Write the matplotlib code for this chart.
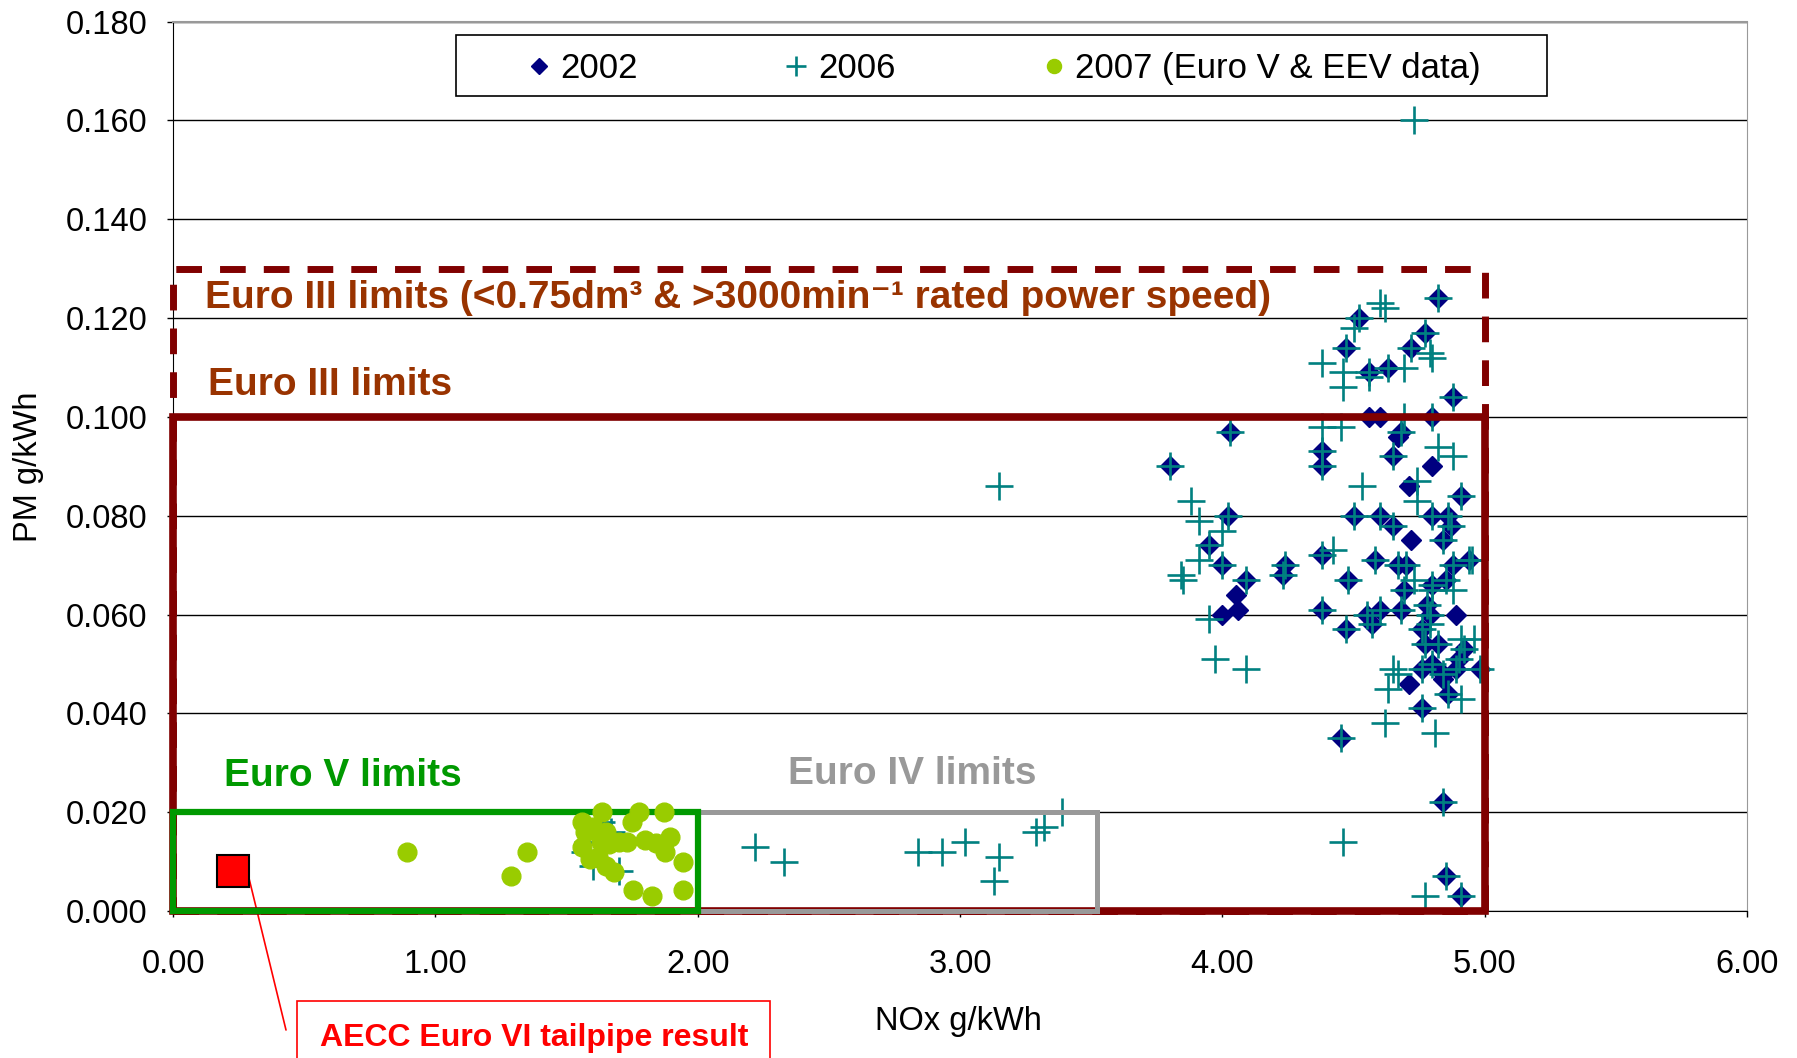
import matplotlib
matplotlib.use("Agg")
import matplotlib.pyplot as plt
from matplotlib.patches import Rectangle

plt.rcParams['font.family'] = ['Liberation Sans', 'DejaVu Sans']

# 2002 engines (NOx, PM)
nox_2002 = [3.80, 4.03, 3.95, 4.00, 4.02, 4.00, 4.05, 4.06, 4.09, 4.24, 4.23, 4.38, 4.38, 4.38,
            4.38, 4.82, 4.52, 4.47, 4.77, 4.72, 4.56, 4.63, 4.88, 4.56, 4.60, 4.80, 4.68, 4.67,
            4.65, 4.80, 4.50, 4.60, 4.65, 4.71, 4.91, 4.80, 4.86, 4.87, 4.72, 4.84, 4.58, 4.67,
            4.70, 4.48, 4.88, 4.94, 4.80, 4.85, 4.69, 4.55, 4.60, 4.68, 4.78, 4.79, 4.89, 4.47,
            4.57, 4.76, 4.77, 4.82, 4.92, 4.90, 4.80, 4.76, 4.84, 4.89, 4.98, 4.71, 4.84, 4.86,
            4.76, 4.45, 4.84, 4.85, 4.91]
pm_2002 = [0.090, 0.097, 0.074, 0.070, 0.080, 0.060, 0.064, 0.061, 0.067, 0.070, 0.068, 0.093, 0.090, 0.072,
           0.061, 0.124, 0.120, 0.114, 0.117, 0.114, 0.109, 0.110, 0.104, 0.100, 0.100, 0.100, 0.097, 0.096,
           0.092, 0.090, 0.080, 0.080, 0.078, 0.086, 0.084, 0.080, 0.080, 0.078, 0.075, 0.075, 0.071, 0.070,
           0.070, 0.067, 0.070, 0.071, 0.066, 0.067, 0.065, 0.060, 0.061, 0.061, 0.062, 0.060, 0.060, 0.057,
           0.058, 0.057, 0.054, 0.054, 0.053, 0.051, 0.050, 0.049, 0.048, 0.049, 0.049, 0.046, 0.047, 0.044,
           0.041, 0.035, 0.022, 0.007, 0.003]

# 2006 engines
nox_2006 = [3.80, 4.03, 3.95, 4.00, 4.02, 4.09, 4.24, 4.23, 4.38, 4.38, 4.38, 4.38, 4.82, 4.52,
            4.47, 4.77, 4.72, 4.56, 4.63, 4.88, 4.80, 4.68, 4.65, 4.50, 4.60, 4.65, 4.91, 4.80,
            4.86, 4.87, 4.84, 4.58, 4.67, 4.70, 4.48, 4.88, 4.94, 4.80, 4.85, 4.69, 4.55, 4.60,
            4.68, 4.78, 4.79, 4.47, 4.57, 4.76, 4.77, 4.82, 4.92, 4.90, 4.80, 4.76, 4.84, 4.89,
            4.98, 4.86, 4.76, 4.45, 4.84, 4.85, 4.91,
            3.15, 4.73, 3.88, 3.91, 4.00, 3.91, 3.84, 3.85, 3.95, 3.97, 4.09, 4.42, 4.38, 4.38,
            4.60, 4.62, 4.50, 4.79, 4.80, 4.46, 4.46, 4.56, 4.69, 4.69, 4.45, 4.82, 4.88, 4.53,
            4.74, 4.74, 4.95, 4.73, 4.88, 4.80, 4.79, 4.91, 4.96, 4.65, 4.67, 4.63, 4.91, 4.62,
            4.81, 4.46, 4.77,
            2.22, 2.33, 2.84, 2.93, 3.02, 3.15, 3.13, 3.29, 3.32, 3.39,
            1.57, 1.60, 1.63, 1.67, 1.70, 1.58]
pm_2006 = [0.090, 0.097, 0.074, 0.070, 0.080, 0.067, 0.070, 0.068, 0.093, 0.090, 0.072, 0.061, 0.124, 0.120,
           0.114, 0.117, 0.114, 0.109, 0.110, 0.104, 0.100, 0.097, 0.092, 0.080, 0.080, 0.078, 0.084, 0.080,
           0.080, 0.078, 0.075, 0.071, 0.070, 0.070, 0.067, 0.070, 0.071, 0.066, 0.067, 0.065, 0.060, 0.061,
           0.061, 0.062, 0.060, 0.057, 0.058, 0.057, 0.054, 0.054, 0.053, 0.051, 0.050, 0.049, 0.048, 0.049,
           0.049, 0.044, 0.041, 0.035, 0.022, 0.007, 0.003,
           0.086, 0.160, 0.083, 0.079, 0.077, 0.071, 0.068, 0.067, 0.059, 0.051, 0.049, 0.073, 0.111, 0.098,
           0.123, 0.122, 0.118, 0.113, 0.112, 0.109, 0.106, 0.108, 0.110, 0.100, 0.098, 0.094, 0.092, 0.086,
           0.087, 0.083, 0.071, 0.067, 0.065, 0.065, 0.058, 0.055, 0.055, 0.049, 0.048, 0.045, 0.043, 0.038,
           0.036, 0.014, 0.003,
           0.013, 0.010, 0.012, 0.012, 0.014, 0.011, 0.006, 0.016, 0.017, 0.020,
           0.012, 0.009, 0.018, 0.016, 0.008, 0.014]

# 2007 engines (Euro V & EEV)
nox_2007 = [0.89, 1.35, 1.29, 1.635, 1.775, 1.87, 1.56, 1.75, 1.65, 1.56, 1.63, 1.66, 1.73, 1.80,
            1.84, 1.895, 1.875, 1.945, 1.59, 1.65, 1.68, 1.755, 1.825, 1.945, 1.60, 1.62, 1.70, 1.57]
pm_2007 = [0.012, 0.012, 0.007, 0.020, 0.020, 0.020, 0.018, 0.018, 0.016, 0.013, 0.014, 0.0135, 0.014, 0.0144,
           0.0137, 0.015, 0.012, 0.010, 0.0105, 0.009, 0.0078, 0.0043, 0.003, 0.0043, 0.017, 0.011, 0.014, 0.016]

# AECC Euro VI result
aecc_nox = [0.23]
aecc_pm = [0.008]

# limit boxes: (nox limit, pm limit)
euro3_small = (5.0, 0.130)
euro3 = (5.0, 0.100)
euro4 = (3.52, 0.020)
euro5 = (2.0, 0.020)

fig = plt.figure(figsize=(17.97, 10.58), dpi=100)
ax = fig.add_axes([0.0963, 0.139, 0.876, 0.8405])

ax.set_xlim(0, 6)
ax.set_ylim(0, 0.18)
ax.set_xticks([0, 1, 2, 3, 4, 5, 6])
ax.set_yticks([0.02 * i for i in range(10)])
ax.xaxis.set_major_formatter(plt.FormatStrFormatter('%.2f'))
ax.yaxis.set_major_formatter(plt.FormatStrFormatter('%.3f'))
ax.tick_params(labelsize=23.5, length=4.5, width=1)
ax.tick_params(axis='x', pad=23)
ax.tick_params(axis='y', pad=14)
ax.grid(axis='y', color='black', linewidth=1)
ax.set_axisbelow(True)
for side in ['top', 'right']:
    ax.spines[side].set_color('#999999')
ax.spines['top'].set_linewidth(1.5)

ax.set_xlabel('NOx g/kWh', fontsize=23.5)
ax.set_ylabel('PM g/kWh', fontsize=23.5)
ax.xaxis.set_label_coords(0.499, -0.107)
ax.yaxis.set_label_coords(-0.082, 0.5)

ax.plot(nox_2002, pm_2002, linestyle='none', marker='D', ms=10.5, color='#000080',
        label='2002', zorder=3)
ax.plot(nox_2006, pm_2006, linestyle='none', marker='+', ms=20, mew=1.9, color='#008080',
        label='2006', zorder=3.1)

# limit boxes
ax.add_patch(Rectangle((0, 0), euro3_small[0], euro3_small[1], fill=False, edgecolor='#800000',
                       linewidth=5, linestyle=(0, (3.7, 2.6)), zorder=4, clip_on=False))
ax.add_patch(Rectangle((0, 0), euro3[0], euro3[1], fill=False, edgecolor='#800000',
                       linewidth=5.5, zorder=4, clip_on=False))
ax.add_patch(Rectangle((0, 0), euro4[0], euro4[1], fill=False, edgecolor='#999999',
                       linewidth=3.6, zorder=4.2, clip_on=False))
ax.add_patch(Rectangle((0, 0), euro5[0], euro5[1], fill=False, edgecolor='#009900',
                       linewidth=4.5, zorder=4.4, clip_on=False))

ax.plot(nox_2007, pm_2007, linestyle='none', marker='o', ms=13.5, color='#99CC00',
        label='2007 (Euro V & EEV data)', zorder=5)
ax.plot(aecc_nox, aecc_pm, linestyle='none', marker='s', ms=23, markerfacecolor='#FF0000',
        markeredgecolor='black', mew=1.5, zorder=6)

ax.text(0.12, 0.124, 'Euro III limits (<0.75dm³ & >3000min⁻¹ rated power speed)', fontsize=28,
        fontweight='bold', color='#993300', va='center', zorder=6)
ax.text(0.135, 0.1065, 'Euro III limits', fontsize=28, fontweight='bold', color='#993300',
        va='center', zorder=6)
ax.text(0.196, 0.0274, 'Euro V limits', fontsize=28, fontweight='bold', color='#009900',
        va='center', zorder=6)
ax.text(2.345, 0.0278, 'Euro IV limits', fontsize=28, fontweight='bold', color='#999999',
        va='center', zorder=6)

# legend with its own frame
ax.add_patch(Rectangle((0.180, 0.9165), 0.693, 0.068, transform=ax.transAxes, facecolor='white',
                       edgecolor='black', linewidth=1.2, zorder=7))
leg = ax.legend(loc='center', bbox_to_anchor=(0.2236, 0.947, 0.6073, 0), mode='expand', ncol=3,
                frameon=False, fontsize=25, markerscale=0.75, handlelength=0.8, handletextpad=0.22,
                borderpad=0, borderaxespad=0)
leg.set_zorder(8)

# callout for AECC result
ax.annotate('', xy=(0.29, 0.0065), xycoords='data', xytext=(286, 28), textcoords='figure pixels',
            arrowprops=dict(arrowstyle='-', color='#FF0000', lw=1.2, shrinkA=0, shrinkB=0),
            annotation_clip=False)
fig.text(0.297, 0.019, 'AECC Euro VI tailpipe result', fontsize=23, fontweight='bold', color='#FF0000',
         ha='center', va='center',
         bbox=dict(boxstyle='square,pad=0.7', facecolor='white', edgecolor='#FF0000', linewidth=1.2))

fig.savefig('out.png', dpi=100)
